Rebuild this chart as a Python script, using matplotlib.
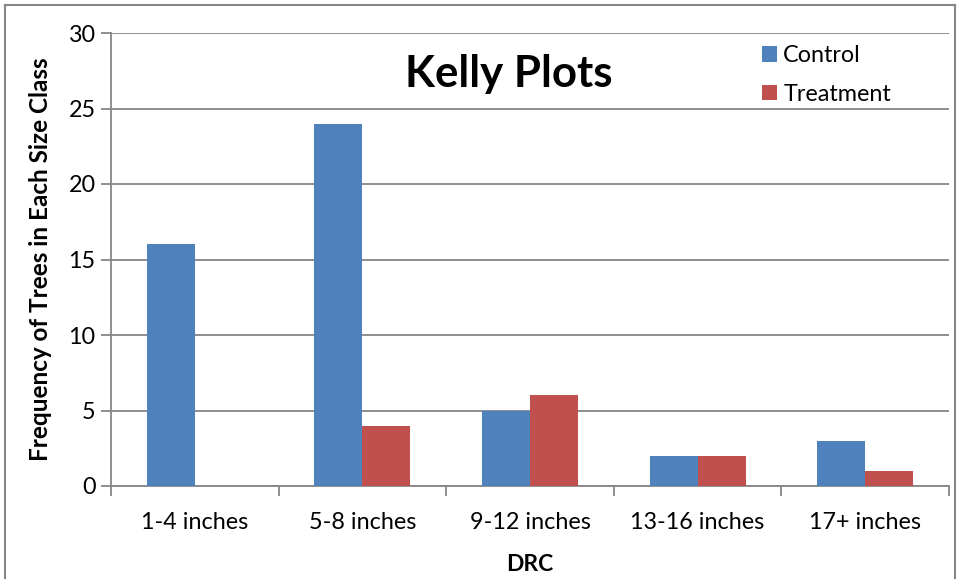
import numpy as np
import matplotlib.pyplot as plt
from matplotlib.lines import Line2D

categories = ['1-4 inches', '5-8 inches', '9-12 inches', '13-16 inches', '17+ inches']
control = [16, 24, 5, 2, 3]
treatment = [0, 4, 6, 2, 1]

plt.rcParams['font.family'] = ['Lato', 'DejaVu Sans']
grid_color = '#868686'

fig = plt.figure(figsize=(9.6, 5.79), dpi=100)
ax = fig.add_axes([111/960, 1-486/579, (949-111)/960, (486-33)/579])

x = np.arange(len(categories))
w = 0.286
ax.bar(x - w/2, control, w, color='#4F81BD', label='Control', zorder=3)
ax.bar(x + w/2, treatment, w, color='#C0504D', label='Treatment', zorder=3)

ax.set_xlim(-0.5, len(categories) - 0.5)
ax.set_ylim(0, 30)
ax.set_yticks(range(0, 31, 5))
ax.yaxis.grid(True, color=grid_color, linewidth=1.3, zorder=0)
ax.set_axisbelow(True)
ax.set_xticks(x)
ax.set_xticklabels(categories, fontsize=16.8)
ax.set_xticks(np.arange(-0.5, len(categories)), minor=True)
ax.tick_params(axis='x', which='major', length=0, pad=19)
ax.tick_params(axis='x', which='minor', length=7, color=grid_color, width=1.3)
ax.tick_params(axis='y', length=7, color=grid_color, width=1.3, labelsize=16.8, pad=4)
for s in ['top', 'right']:
    ax.spines[s].set_visible(False)
for s in ['left', 'bottom']:
    ax.spines[s].set_color(grid_color)
    ax.spines[s].set_linewidth(1.3)

ax.set_xlabel('DRC', fontsize=16.5, fontweight='bold', labelpad=15)
ax.set_ylabel('Frequency of Trees in Each Size Class', fontsize=17.5, fontweight='bold', labelpad=12)
ax.text(0.475, 0.91, 'Kelly Plots', transform=ax.transAxes, ha='center', va='center',
        fontsize=31.5, fontweight='bold')

ax.legend(loc='upper left', bbox_to_anchor=(0.752, 1.019), frameon=False, fontsize=16.8,
          handlelength=0.65, handleheight=0.65, handletextpad=0.25, labelspacing=0.75)

# outer chart border
for xs, ys in [([5, 5], [579, 5]), ([5, 955], [5, 5]), ([955, 955], [5, 579])]:
    fig.add_artist(Line2D([v/960 for v in xs], [1 - v/579 for v in ys], color=grid_color, linewidth=1.5))

fig.savefig('out.png', dpi=100)
